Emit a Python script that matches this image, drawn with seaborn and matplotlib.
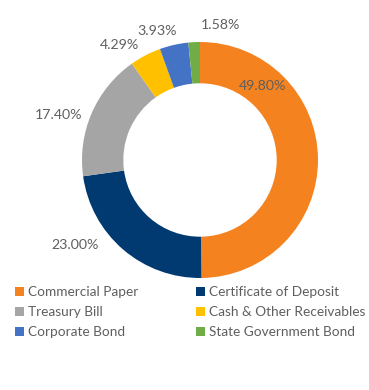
import matplotlib
matplotlib.use("Agg")
import matplotlib.pyplot as plt
import seaborn as sns

categories = ["Commercial Paper", "Certificate of Deposit", "Treasury Bill",
              "Cash & Other Receivables", "Corporate Bond", "State Government Bond"]
shares = [49.80, 23.00, 17.40, 4.29, 3.93, 1.58]
pct_labels = ["49.80%", "23.00%", "17.40%", "4.29%", "3.93%", "1.58%"]
colors = ["#F4821F", "#003A70", "#A5A5A5", "#FFC000", "#4472C4", "#70AD47"]

# where each percentage label sits (in units of the outer radius)
label_pos = [(0.53, 0.63), (-1.055, -0.72), (-1.20, 0.38),
             (-0.68, 0.975), (-0.36, 1.09), (0.174, 1.144)]

sns.set_theme(style="white")
plt.rcParams["font.family"] = ["Lato", "DejaVu Sans"]
text_color = "#5f5f5f"

fig = plt.figure(figsize=(3.69, 3.90), dpi=100)
ax = fig.add_axes([82 / 369, 112 / 390, 236 / 369, 236 / 390])

wedges, _ = ax.pie(shares, colors=colors, startangle=90, counterclock=False,
                   radius=1.0, wedgeprops=dict(width=0.35, linewidth=0))
for (x, y), lab in zip(label_pos, pct_labels):
    ax.text(x, y, lab, ha="center", va="center", fontsize=10.2, color=text_color)

ax.set_xlim(-1, 1)
ax.set_ylim(-1, 1)
ax.set_aspect("equal")
ax.axis("off")

# legend reads row by row in the reference, matplotlib fills by column
order = [0, 2, 4, 1, 3, 5]
leg = fig.legend([wedges[i] for i in order], [categories[i] for i in order],
                 ncol=2, loc="upper left",
                 bbox_to_anchor=(15 / 369, 1 - 286 / 390), frameon=False,
                 fontsize=9.8, handlelength=0.67, handleheight=0.67,
                 handletextpad=0.3, columnspacing=4.2, labelspacing=0.6,
                 borderpad=0, borderaxespad=0)
for t in leg.get_texts():
    t.set_color(text_color)

fig.savefig("out.png", dpi=100)
